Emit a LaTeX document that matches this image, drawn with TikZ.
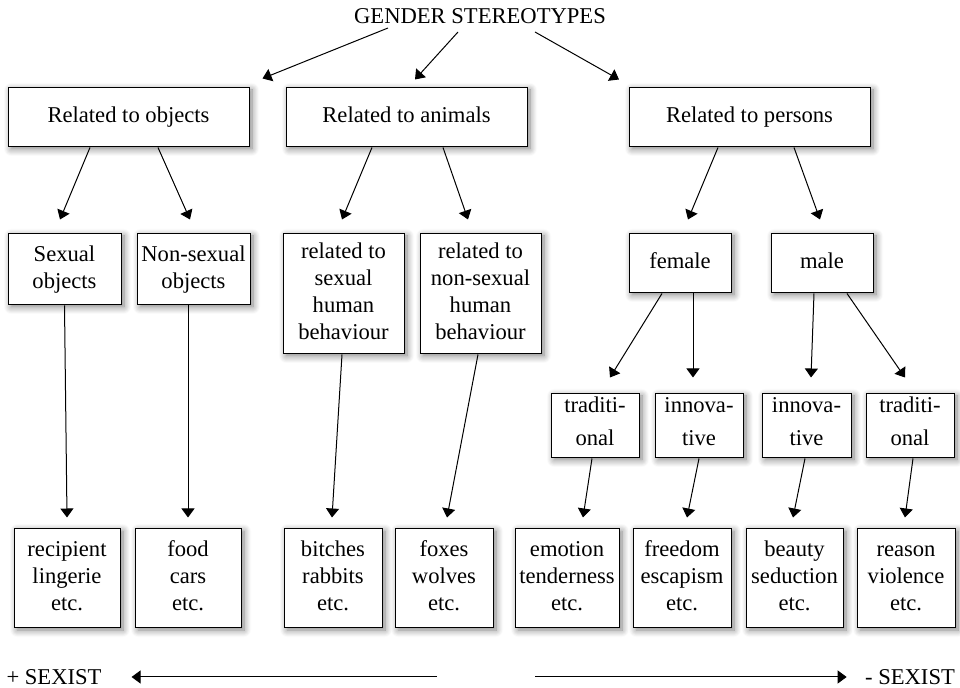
\documentclass[tikz,border=0pt]{standalone}
\usepackage{fontspec}
\setmainfont{Liberation Serif}
\usetikzlibrary{arrows.meta,shadows.blur}
\newcommand\bxstrut{\rule[-2.6pt]{0pt}{10.3pt}}
\tikzset{
  box/.style={draw,fill=white,line width=0.5pt,align=center,inner sep=1pt,
    execute at begin node=\bxstrut,execute at end node=\bxstrut,
    blur shadow={shadow blur steps=8,shadow xshift=1.5pt,shadow yshift=-1pt,shadow opacity=50,shadow blur radius=3.5pt}},
  hyphbox/.style={box,minimum height=32pt,execute at end node=\rule[-5pt]{0pt}{5pt}},
  arr/.style={-{Triangle[length=4.5pt,width=6.5pt]},line width=0.5pt},
}
\begin{document}
\begin{tikzpicture}[x=0.5pt,y=-0.5pt,font=\fontsize{11.3}{13.5}\selectfont]
\useasboundingbox (0,0) rectangle (960,688);
\node (title) at (480,16) {GENDER STEREOTYPES};
\node[box,minimum width=120.5pt,minimum height=29.5pt] (objs) at (128.5,117.5) {Related to objects};
\node[box,minimum width=120.5pt,minimum height=29.5pt] (anim) at (406.5,117.5) {Related to animals};
\node[box,minimum width=120.5pt,minimum height=29.5pt] (pers) at (749.5,117.5) {Related to persons};
\node[box,minimum width=56.5pt,minimum height=35.5pt] (sexobj) at (64.5,269.5) {Sexual\\objects};
\node[box,minimum width=56.5pt,minimum height=35.5pt] (nonsexobj) at (193.5,269.5) {Non-sexual\\objects};
\node[box,minimum width=60.5pt,minimum height=60pt] (sexbeh) at (343.5,294) {related to\\sexual\\human\\behaviour};
\node[box,minimum width=60.5pt,minimum height=60pt] (nonsexbeh) at (480.5,294) {related to\\non-sexual\\human\\behaviour};
\node[box,minimum width=51pt,minimum height=29.5pt] (female) at (680,263.5) {female};
\node[box,minimum width=51pt,minimum height=29.5pt] (male) at (822,263.5) {male};
\node[hyphbox,minimum width=44pt] (ftrad) at (595,426) {traditi-\\[3pt]onal};
\node[hyphbox,minimum width=44pt] (finno) at (699,426) {\bxstrut innova-\\[3pt]tive};
\node[hyphbox,minimum width=44.5pt] (minno) at (806.5,426) {\bxstrut innova-\\[3pt]tive};
\node[hyphbox,minimum width=44pt] (mtrad) at (910,426) {traditi-\\[3pt]onal};
\node[box,minimum width=53pt,minimum height=49.5pt] (recip) at (67,578.5) {\bxstrut recipient\\lingerie\\etc.};
\node[box,minimum width=53pt,minimum height=49.5pt] (food) at (188,578.5) {food\\cars\\etc.};
\node[box,minimum width=49pt,minimum height=49.5pt] (bitch) at (333,578.5) {bitches\\rabbits\\etc.};
\node[box,minimum width=49pt,minimum height=49.5pt] (foxes) at (444,578.5) {foxes\\wolves\\etc.};
\node[box,minimum width=52pt,minimum height=49.5pt] (emot) at (567,578.5) {\bxstrut emotion\\tenderness\\etc.};
\node[box,minimum width=49pt,minimum height=49.5pt] (freed) at (682,578.5) {freedom\\escapism\\etc.};
\node[box,minimum width=48.5pt,minimum height=49.5pt] (beaut) at (794.5,578.5) {beauty\\seduction\\etc.};
\node[box,minimum width=49pt,minimum height=49.5pt] (reason) at (906,578.5) {\bxstrut reason\\violence\\etc.};
\node (plus) at (54,677) {+ SEXIST};
\node (minus) at (910,677) {- SEXIST};
\coordinate (lmid) at (437,677);
\coordinate (rmid) at (535,677);
\draw[arr] ([shift={(-46pt,-6pt)}]title.center)--([shift={(67pt,4.5pt)}]objs.north);
\draw[arr] ([shift={(-11pt,-8pt)}]title.center)--([shift={(4.25pt,4pt)}]anim.north);
\draw[arr] ([shift={(27.5pt,-8pt)}]title.center)--([shift={(-65.25pt,4pt)}]pers.north);
\draw[arr] ([xshift=-19.25pt]objs.south)--([shift={(-2.25pt,7pt)}]sexobj.north);
\draw[arr] ([xshift=14.75pt]objs.south)--([shift={(-1.75pt,7pt)}]nonsexobj.north);
\draw[arr] ([xshift=-17.25pt]anim.south)--([shift={(-0.75pt,7pt)}]sexbeh.north);
\draw[arr] ([xshift=18.25pt]anim.south)--([shift={(-6.25pt,7pt)}]nonsexbeh.north);
\draw[arr] ([xshift=-15.75pt]pers.south)--([shift={(4pt,7pt)}]female.north);
\draw[arr] ([xshift=22.25pt]pers.south)--([shift={(-1pt,7pt)}]male.north);
\draw[arr] ([xshift=-9pt]female.south)--([shift={(7.5pt,8pt)}]ftrad.north);
\draw[arr] ([xshift=6.5pt]female.south)--([shift={(-3pt,8pt)}]finno.north);
\draw[arr] ([xshift=-4pt]male.south)--([shift={(2.25pt,8pt)}]minno.north);
\draw[arr] ([xshift=12.5pt]male.south)--([shift={(-2.5pt,8pt)}]mtrad.north);
\draw[arr] (sexobj.south)--([yshift=5.5pt]recip.north);
\draw[arr] ([xshift=-2.75pt]nonsexobj.south)--([yshift=5.5pt]food.north);
\draw[arr] ([xshift=-0.75pt]sexbeh.south)--([shift={(-0.5pt,5.5pt)}]bitch.north);
\draw[arr] ([xshift=-1.25pt]nonsexbeh.south)--([shift={(1.5pt,5.5pt)}]foxes.north);
\draw[arr] ([xshift=-1.5pt]ftrad.south)--([shift={(8pt,5.5pt)}]emot.north);
\draw[arr] (finno.south)--([shift={(2.5pt,5.5pt)}]freed.north);
\draw[arr] ([xshift=-0.75pt]minno.south)--([shift={(-0.75pt,5.5pt)}]beaut.north);
\draw[arr] ([xshift=1.5pt]mtrad.south)--([shift={(-0.5pt,5.5pt)}]reason.north);
\draw[arr,shorten >=11.5pt] (lmid)--(plus.east);
\draw[arr,shorten >=5.7pt] (rmid)--(minus.west);
\end{tikzpicture}
\end{document}
